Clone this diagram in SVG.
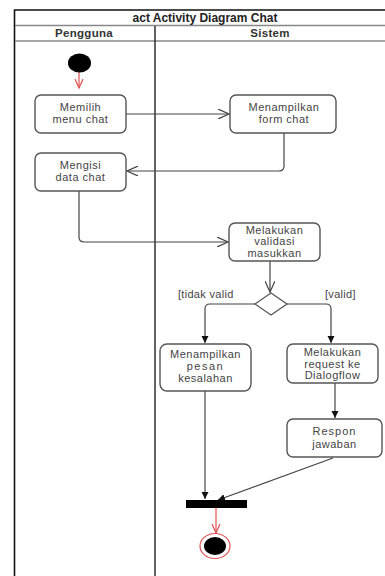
<svg xmlns="http://www.w3.org/2000/svg" width="385" height="576" viewBox="0 0 385 576">
  <style>
    .frame { fill: none; stroke: #111; stroke-width: 1.6; }
    .sep { stroke: #888; stroke-width: 1.5; }
    .title { font-family: "Liberation Sans", Arial, sans-serif; font-size: 12px; font-weight: bold; fill: #222; text-anchor: middle; }
    .lane { font-family: "Liberation Sans", Arial, sans-serif; font-size: 11.5px; font-weight: bold; fill: #333; text-anchor: middle; letter-spacing: 0.3px; }
    .box { fill: #fff; stroke: #555; stroke-width: 1.4; }
    .lbl { font-family: "Liberation Sans", Arial, sans-serif; font-size: 11px; fill: #444; text-anchor: middle; letter-spacing: 0.5px; }
    .guard { font-family: "Liberation Sans", Arial, sans-serif; font-size: 11px; fill: #444; letter-spacing: 0.3px; }
    .edge { fill: none; stroke: #444; stroke-width: 1.2; }
    .edge-open { fill: none; stroke: #444; stroke-width: 1.2; marker-end: url(#open); }
    .edge-fill { fill: none; stroke: #444; stroke-width: 1.2; marker-end: url(#solid); }
    .edge-red { fill: none; stroke: #e05050; stroke-width: 1.2; marker-end: url(#openRed); }
  </style>
  <defs>
    <marker id="open" markerWidth="12" markerHeight="10" refX="11" refY="5" orient="auto" markerUnits="userSpaceOnUse">
      <path d="M0,0 L11,5 L0,10" fill="none" stroke="#444" stroke-width="1.2"/>
    </marker>
    <marker id="openRed" markerWidth="10" markerHeight="10" refX="9" refY="5" orient="auto" markerUnits="userSpaceOnUse">
      <path d="M0,1 L9,5 L0,9" fill="none" stroke="#e05050" stroke-width="1.2"/>
    </marker>
    <marker id="solid" markerWidth="8" markerHeight="8" refX="7" refY="4" orient="auto" markerUnits="userSpaceOnUse">
      <path d="M0,0.5 L7,4 L0,7.5 Z" fill="#111"/>
    </marker>
  </defs>

  <rect width="385" height="576" fill="#fff"/>

  <!-- swimlane frame -->
  <g id="frame">
    <path class="frame" d="M390,10 H14.5 V576"/>
    <line class="sep" x1="15" y1="25.5" x2="385" y2="25.5"/>
    <line class="sep" x1="15" y1="41" x2="385" y2="41"/>
    <line x1="155" y1="26" x2="155" y2="576" stroke="#222" stroke-width="1.4"/>
    <text class="title" x="205" y="21.5">act Activity Diagram Chat</text>
    <text class="lane" x="84" y="37">Pengguna</text>
    <text class="lane" x="270" y="37">Sistem</text>
  </g>

  <!-- connectors -->
  <g id="connectors">
    <path class="edge-red" d="M79,72 V88"/>
    <path class="edge-open" d="M126,114 H229"/>
    <path class="edge-open" d="M284,133 V166 Q284,171 279,171 H127"/>
    <path class="edge-open" d="M79,191 V237 Q79,242 84,242 H228"/>
    <path class="edge-open" d="M270,261 V292"/>
    <path class="edge-fill" d="M255,304 H210 Q205,304 205,309 V343"/>
    <path class="edge-fill" d="M287,304 H326 Q331,304 331,309 V343"/>
    <path class="edge-fill" d="M335,383 V418"/>
    <path class="edge-fill" d="M205,391 V499"/>
    <path class="edge-fill" d="M333,458 L218,500"/>
    <path class="edge-red" d="M216,508 V533"/>
  </g>

  <g id="start">
    <ellipse cx="79.5" cy="63" rx="11.5" ry="9.5" fill="#000"/>
  </g>

  <g id="memilih">
    <rect class="box" x="35" y="95" width="91" height="38" rx="6"/>
    <text class="lbl" x="80.5" y="111">Memilih</text>
    <text class="lbl" x="80.5" y="123">menu chat</text>
  </g>

  <g id="menampilkan-form">
    <rect class="box" x="230" y="95" width="106" height="38" rx="6"/>
    <text class="lbl" x="284" y="111">Menampilkan</text>
    <text class="lbl" x="284" y="123">form chat</text>
  </g>

  <g id="mengisi">
    <rect class="box" x="35" y="153" width="91" height="38" rx="6"/>
    <text class="lbl" x="80.5" y="169">Mengisi</text>
    <text class="lbl" x="80.5" y="181">data chat</text>
  </g>

  <g id="validasi">
    <rect class="box" x="229" y="223" width="91" height="38" rx="6"/>
    <text class="lbl" x="274.5" y="233.5">Melakukan</text>
    <text class="lbl" x="274.5" y="245">validasi</text>
    <text class="lbl" x="274.5" y="256.5">masukkan</text>
  </g>

  <g id="decision">
    <path d="M271,293 L287,304 L271,315 L255,304 Z" fill="#fff" stroke="#555" stroke-width="1.3"/>
    <text class="guard" x="178" y="298">[tidak valid</text>
    <text class="guard" x="325" y="298">[valid]</text>
  </g>

  <g id="pesan-kesalahan">
    <rect class="box" x="160" y="344" width="91" height="47" rx="7"/>
    <text class="lbl" x="205.5" y="358">Menampilkan</text>
    <text class="lbl" x="205.5" y="370" style="letter-spacing:1.5px">pesan</text>
    <text class="lbl" x="205.5" y="382">kesalahan</text>
  </g>

  <g id="request-dialogflow">
    <rect class="box" x="287" y="344" width="91" height="39" rx="6"/>
    <text class="lbl" x="332.5" y="356">Melakukan</text>
    <text class="lbl" x="332.5" y="367.5">request ke</text>
    <text class="lbl" x="332.5" y="379">Dialogflow</text>
  </g>

  <g id="respon">
    <rect class="box" x="287" y="419" width="95" height="38" rx="6"/>
    <text class="lbl" x="334.5" y="435" style="letter-spacing:1px">Respon</text>
    <text class="lbl" x="334.5" y="448">jawaban</text>
  </g>

  <g id="join">
    <rect x="186" y="500" width="61" height="8" fill="#000"/>
  </g>

  <g id="end">
    <ellipse cx="215" cy="546" rx="15" ry="12.5" fill="#fff" stroke="#e05050" stroke-width="1.2"/>
    <ellipse cx="215" cy="546" rx="11" ry="9" fill="#000"/>
  </g>
</svg>
